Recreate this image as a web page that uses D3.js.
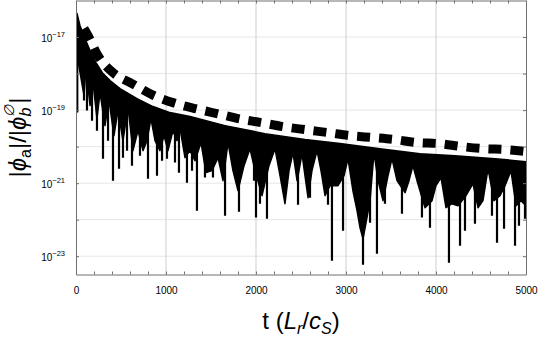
<!DOCTYPE html>
<html>
<head>
<meta charset="utf-8">
<script src="https://cdn.jsdelivr.net/npm/d3@7"></script>
<style>
  body { margin: 0; background: #fff; }
  text { font-family: "Liberation Sans", Arial, Helvetica, sans-serif; }
</style>
</head>
<body>
<div id="chart"></div>
<script>
// x tick labels and y decades
const xTicks = [0, 1000, 2000, 3000, 4000, 5000];
const yTickExp = [-17, -19, -21, -23];

// upper edge of the oscillating signal
const envT = [0, 11, 44, 100, 156, 222, 300, 378, 489, 678, 856, 1044, 1267, 1656, 2100, 2544, 2933, 3378, 3822, 4211, 4656, 5000];
const envV = [3.5e-17, 4.4e-17, 2.07e-17, 9.1e-18, 4.27e-18, 2.0e-18, 1.0e-18, 6.43e-19, 3.88e-19, 2.07e-19, 1.25e-19, 8.55e-20,
    6.64e-20, 3.76e-20, 2.27e-20, 1.56e-20, 1.21e-20, 8.8e-21, 6.43e-21, 5.66e-21, 4.69e-21, 3.88e-21];

// lower edge of the solid part of the signal (arches between the dips)
const floorT = [0, 22, 89, 111, 156, 189, 233, 267, 322, 367, 422, 467, 522, 578, 633, 689, 744, 789, 833, 878,
    933, 978, 1022, 1078, 1122, 1156, 1211, 1267, 1322, 1389, 1444, 1511, 1578, 1633, 1689, 1744, 1800, 1867, 1933, 1989,
    2067, 2144, 2211, 2267, 2322, 2367, 2411, 2456, 2478, 2511, 2544, 2578, 2622, 2678, 2722, 2767, 2822, 2911, 2978, 3022,
    3078, 3122, 3156, 3189, 3222, 3267, 3311, 3356, 3411, 3467, 3511, 3567, 3656, 3700, 3744, 3789, 3878, 3956, 4000, 4056,
    4111, 4178, 4244, 4333, 4411, 4467, 4522, 4578, 4644, 4711, 4767, 4833, 4889, 4944, 5000];
const floorV = [2.27e-18, 2.27e-18, 2.49e-19, 1.37e-18, 1.33e-19, 5.67e-19, 5.85e-20, 3.01e-19, 3.76e-20, 1.82e-19,
    2.0e-20, 9.68e-20, 1.46e-20, 1.17e-19, 7.76e-21, 2.74e-20, 7.76e-21, 1.46e-20, 5.85e-20, 1.46e-20,
    7.76e-21, 2.0e-20, 7.76e-21, 2.74e-20, 1.46e-20, 3.11e-20, 5.0e-21, 7.76e-21, 4.13e-21, 1.29e-20,
    1.94e-21, 2.2e-21, 5.0e-21, 1.17e-21, 1.29e-20, 2.2e-21, 6.23e-22, 3.01e-21, 8.8e-21, 2.2e-21,
    4.55e-22, 3.01e-21, 8.8e-21, 1.6e-21, 2.74e-22, 2.2e-21, 6.85e-21, 1.17e-21, 2.2e-21, 6.43e-21,
    1.6e-21, 4.0e-22, 2.2e-21, 7.76e-21, 2.2e-21, 4.55e-22, 8.55e-22, 8.55e-22, 1.6e-21, 4.69e-21,
    6.0e-22, 1.8e-22, 6.0e-23, 3.0e-23, 8.0e-23, 3.3e-22, 6.85e-21, 1.17e-21, 3.32e-22, 1.6e-21,
    4.69e-21, 1.17e-21, 5.5e-22, 1.17e-21, 3.01e-21, 1.17e-21, 2.13e-22, 3.32e-22, 8.55e-22, 1.42e-21,
    2.13e-22, 2.74e-22, 2.42e-22, 4.55e-22, 9.68e-22, 2.13e-22, 3.32e-22, 2.49e-21, 3.32e-22, 4.55e-22,
    8.55e-22, 2.2e-21, 2.42e-22, 3.32e-22, 2.42e-22];

// thin downward dips: time and lowest value
const spikeT = [14, 89, 122, 178, 233, 300, 356, 411, 478, 522, 567, 622, 711, 800, 900, 956, 1011, 1100, 1144, 1233,
    1289, 1344, 1433, 1522, 1656, 1811, 1978, 2000, 2044, 2122, 2467, 2600, 2800, 2844, 2967, 3189, 3267, 3344, 3433, 3622,
    3844, 3933, 4144, 4267, 4322, 4433, 4622, 4678, 4756, 4878, 4922, 4989];
const spikeV = [8.55e-20, 1.82e-19, 9.68e-20, 5.15e-20, 2.74e-20, 4.69e-21, 1.46e-20, 1.17e-21, 2.49e-21, 5.0e-21,
    7.76e-21, 3.01e-21, 5.66e-21, 1.33e-21, 1.6e-21, 4.13e-21, 4.69e-21, 3.65e-21, 1.94e-21, 1.03e-21,
    2.2e-21, 1.77e-22, 1.42e-21, 1.42e-21, 1.29e-22, 1.66e-22, 1.17e-21, 1.14e-22, 2.74e-22, 1.06e-22,
    2.58e-22, 4.0e-22, 2.58e-22, 7.53e-24, 5.0e-23, 5.85e-24, 8.28e-23, 1.17e-23, 2.74e-22, 1.46e-22,
    1.14e-22, 6.04e-23, 6.64e-24, 1.94e-23, 5.0e-23, 7.76e-23, 1.29e-22, 2.34e-23, 5.66e-23, 1.94e-23,
    6.85e-23, 1.06e-22];

// dashed reference curve
const dashT = [89, 133, 244, 411, 622, 844, 1078, 1322, 1567, 1800, 2056, 2300, 2544, 2800, 3044, 3300, 3544, 3789, 4033, 4289, 4533, 4789, 5000];
const dashV = [1.71e-17, 1.10e-17, 3.11e-18, 1.06e-18, 5.32e-19, 2.66e-19, 1.60e-19, 1.10e-19, 8.02e-20, 5.85e-20,
    4.55e-20, 3.53e-20, 2.92e-20, 2.42e-20, 2.0e-20, 1.77e-20, 1.56e-20, 1.29e-20, 1.21e-20, 1.0e-20, 8.8e-21, 8.28e-21, 7.3e-21];

const W = 540, H = 338;
const margin = { top: 0.5, right: 14, bottom: 63.5, left: 76 };
const width = W - margin.left - margin.right;
const height = H - margin.top - margin.bottom;

const svg = d3.select('#chart').append('svg')
    .attr('width', W)
    .attr('height', H);

const g = svg.append('g')
    .attr('transform', `translate(${margin.left},${margin.top})`);

const x = d3.scaleLinear().domain([0, 5000]).range([0, width]);
const y = d3.scaleLog().domain([Math.pow(10, -23.5), 1e-16]).range([height, 0]);

const decades = d3.range(-23, -16).map(e => Math.pow(10, e));

// grid
g.append('g').selectAll('line')
    .data(decades)
    .enter().append('line')
    .attr('x1', 0).attr('x2', width)
    .attr('y1', d => y(d)).attr('y2', d => y(d))
    .attr('stroke', '#e6e6e6').attr('stroke-width', 1);

g.append('g').selectAll('line')
    .data(xTicks.slice(1, -1))
    .enter().append('line')
    .attr('x1', d => x(d)).attr('x2', d => x(d))
    .attr('y1', 0).attr('y2', height)
    .attr('stroke', '#cfcfcf').attr('stroke-width', 1);

// clip regions
const defs = svg.append('defs');
defs.append('clipPath').attr('id', 'plot')
    .append('rect').attr('width', width).attr('height', height);

const envPts = envT.map((t, i) => [t, envV[i]]);
const floorPts = floorT.map((t, i) => [t, floorV[i]]);
const dashPts = dashT.map((t, i) => [t, dashV[i]]);

const line = d3.line().x(d => x(d[0])).y(d => y(d[1]));

defs.append('clipPath').attr('id', 'under')
    .append('path')
    .attr('d', line(envPts.concat([[5000, Math.pow(10, -23.5)], [0, Math.pow(10, -23.5)]])) + 'Z');

const data = g.append('g').attr('clip-path', 'url(#plot)');

// solid band
data.append('path')
    .attr('d', line(envPts.concat(floorPts.slice().reverse())) + 'Z')
    .attr('fill', '#000')
    .attr('stroke', '#000')
    .attr('stroke-width', 1.5)
    .attr('stroke-linejoin', 'round');

// dips
data.append('g').attr('clip-path', 'url(#under)')
    .selectAll('line')
    .data(spikeT)
    .enter().append('line')
    .attr('x1', d => x(d)).attr('x2', d => x(d))
    .attr('y1', (d, i) => y(spikeV[i]))
    .attr('y2', 0)
    .attr('stroke', '#000')
    .attr('stroke-width', 2.2);

// dashed curve
data.append('path')
    .attr('d', line.curve(d3.curveMonotoneX)(dashPts))
    .attr('fill', 'none')
    .attr('stroke', '#000')
    .attr('stroke-width', 9)
    .attr('stroke-dasharray', '13,9');

// axes (ticks point inwards)
const xMinor = d3.range(0, 5001, 200);
const axisColor = '#707070';

const xAxis = g.append('g')
    .attr('transform', `translate(0,${height})`)
    .call(d3.axisBottom(x).tickValues(xMinor).tickSizeInner(-3).tickSizeOuter(0).tickPadding(12)
        .tickFormat(d => xTicks.includes(d) ? d : ''));

const xTop = g.append('g')
    .call(d3.axisTop(x).tickValues(xMinor).tickSizeInner(-3).tickSizeOuter(0).tickFormat(''));

const yAxis = g.append('g')
    .call(d3.axisLeft(y).tickValues(decades).tickSizeInner(-3).tickSizeOuter(0).tickFormat(''));

const yRight = g.append('g')
    .attr('transform', `translate(${width},0)`)
    .call(d3.axisRight(y).tickValues(decades).tickSizeInner(-3).tickSizeOuter(0).tickFormat(''));

[xAxis, xTop, yAxis, yRight].forEach(a => {
    a.selectAll('path, line').attr('stroke', axisColor);
});
xAxis.selectAll('text')
    .attr('fill', '#000')
    .style('font-size', '10px')
    .style('font-family', '"Liberation Sans", Arial, sans-serif');

// y tick labels as 10^n
const yLab = g.append('g');
yTickExp.forEach(e => {
    const t = yLab.append('text')
        .attr('x', -11)
        .attr('y', y(Math.pow(10, e)) + 5)
        .attr('text-anchor', 'end')
        .style('font-size', '10px');
    t.append('tspan').text('10');
    t.append('tspan').attr('dy', -5).style('font-size', '7.5px').text('\u2212' + (-e));
});

// axis titles
const xt = svg.append('text')
    .attr('x', margin.left + width / 2)
    .attr('y', 329)
    .attr('text-anchor', 'middle')
    .style('font-size', '24px');
xt.append('tspan').text('t (');
xt.append('tspan').style('font-style', 'italic').text('L');
xt.append('tspan').style('font-style', 'italic').style('font-size', '16px').attr('dy', 5).text('r');
xt.append('tspan').attr('dy', -5).text('/');
xt.append('tspan').style('font-style', 'italic').text('c');
xt.append('tspan').style('font-style', 'italic').style('font-size', '16px').attr('dy', 5).text('S');
xt.append('tspan').attr('dy', -5).text(')');

const yt = svg.append('text')
    .attr('transform', `translate(26,${margin.top + height / 2}) rotate(-90)`)
    .attr('text-anchor', 'middle')
    .style('font-size', '24px');
yt.append('tspan').text('|');
yt.append('tspan').style('font-style', 'italic').text('\u03d5');
yt.append('tspan').style('font-size', '16px').attr('dy', 5).text('a');
yt.append('tspan').attr('dy', -5).text('|/|');
yt.append('tspan').style('font-style', 'italic').text('\u03d5');
yt.append('tspan').style('font-style', 'italic').style('font-size', '16px').attr('dy', 5).text('b');
yt.append('tspan').style('font-style', 'italic').style('font-size', '14px').attr('dx', -9).attr('dy', -17).text('\u2205');
yt.append('tspan').attr('dy', 12).attr('dx', 1).text('|');
</script>
</body>
</html>
